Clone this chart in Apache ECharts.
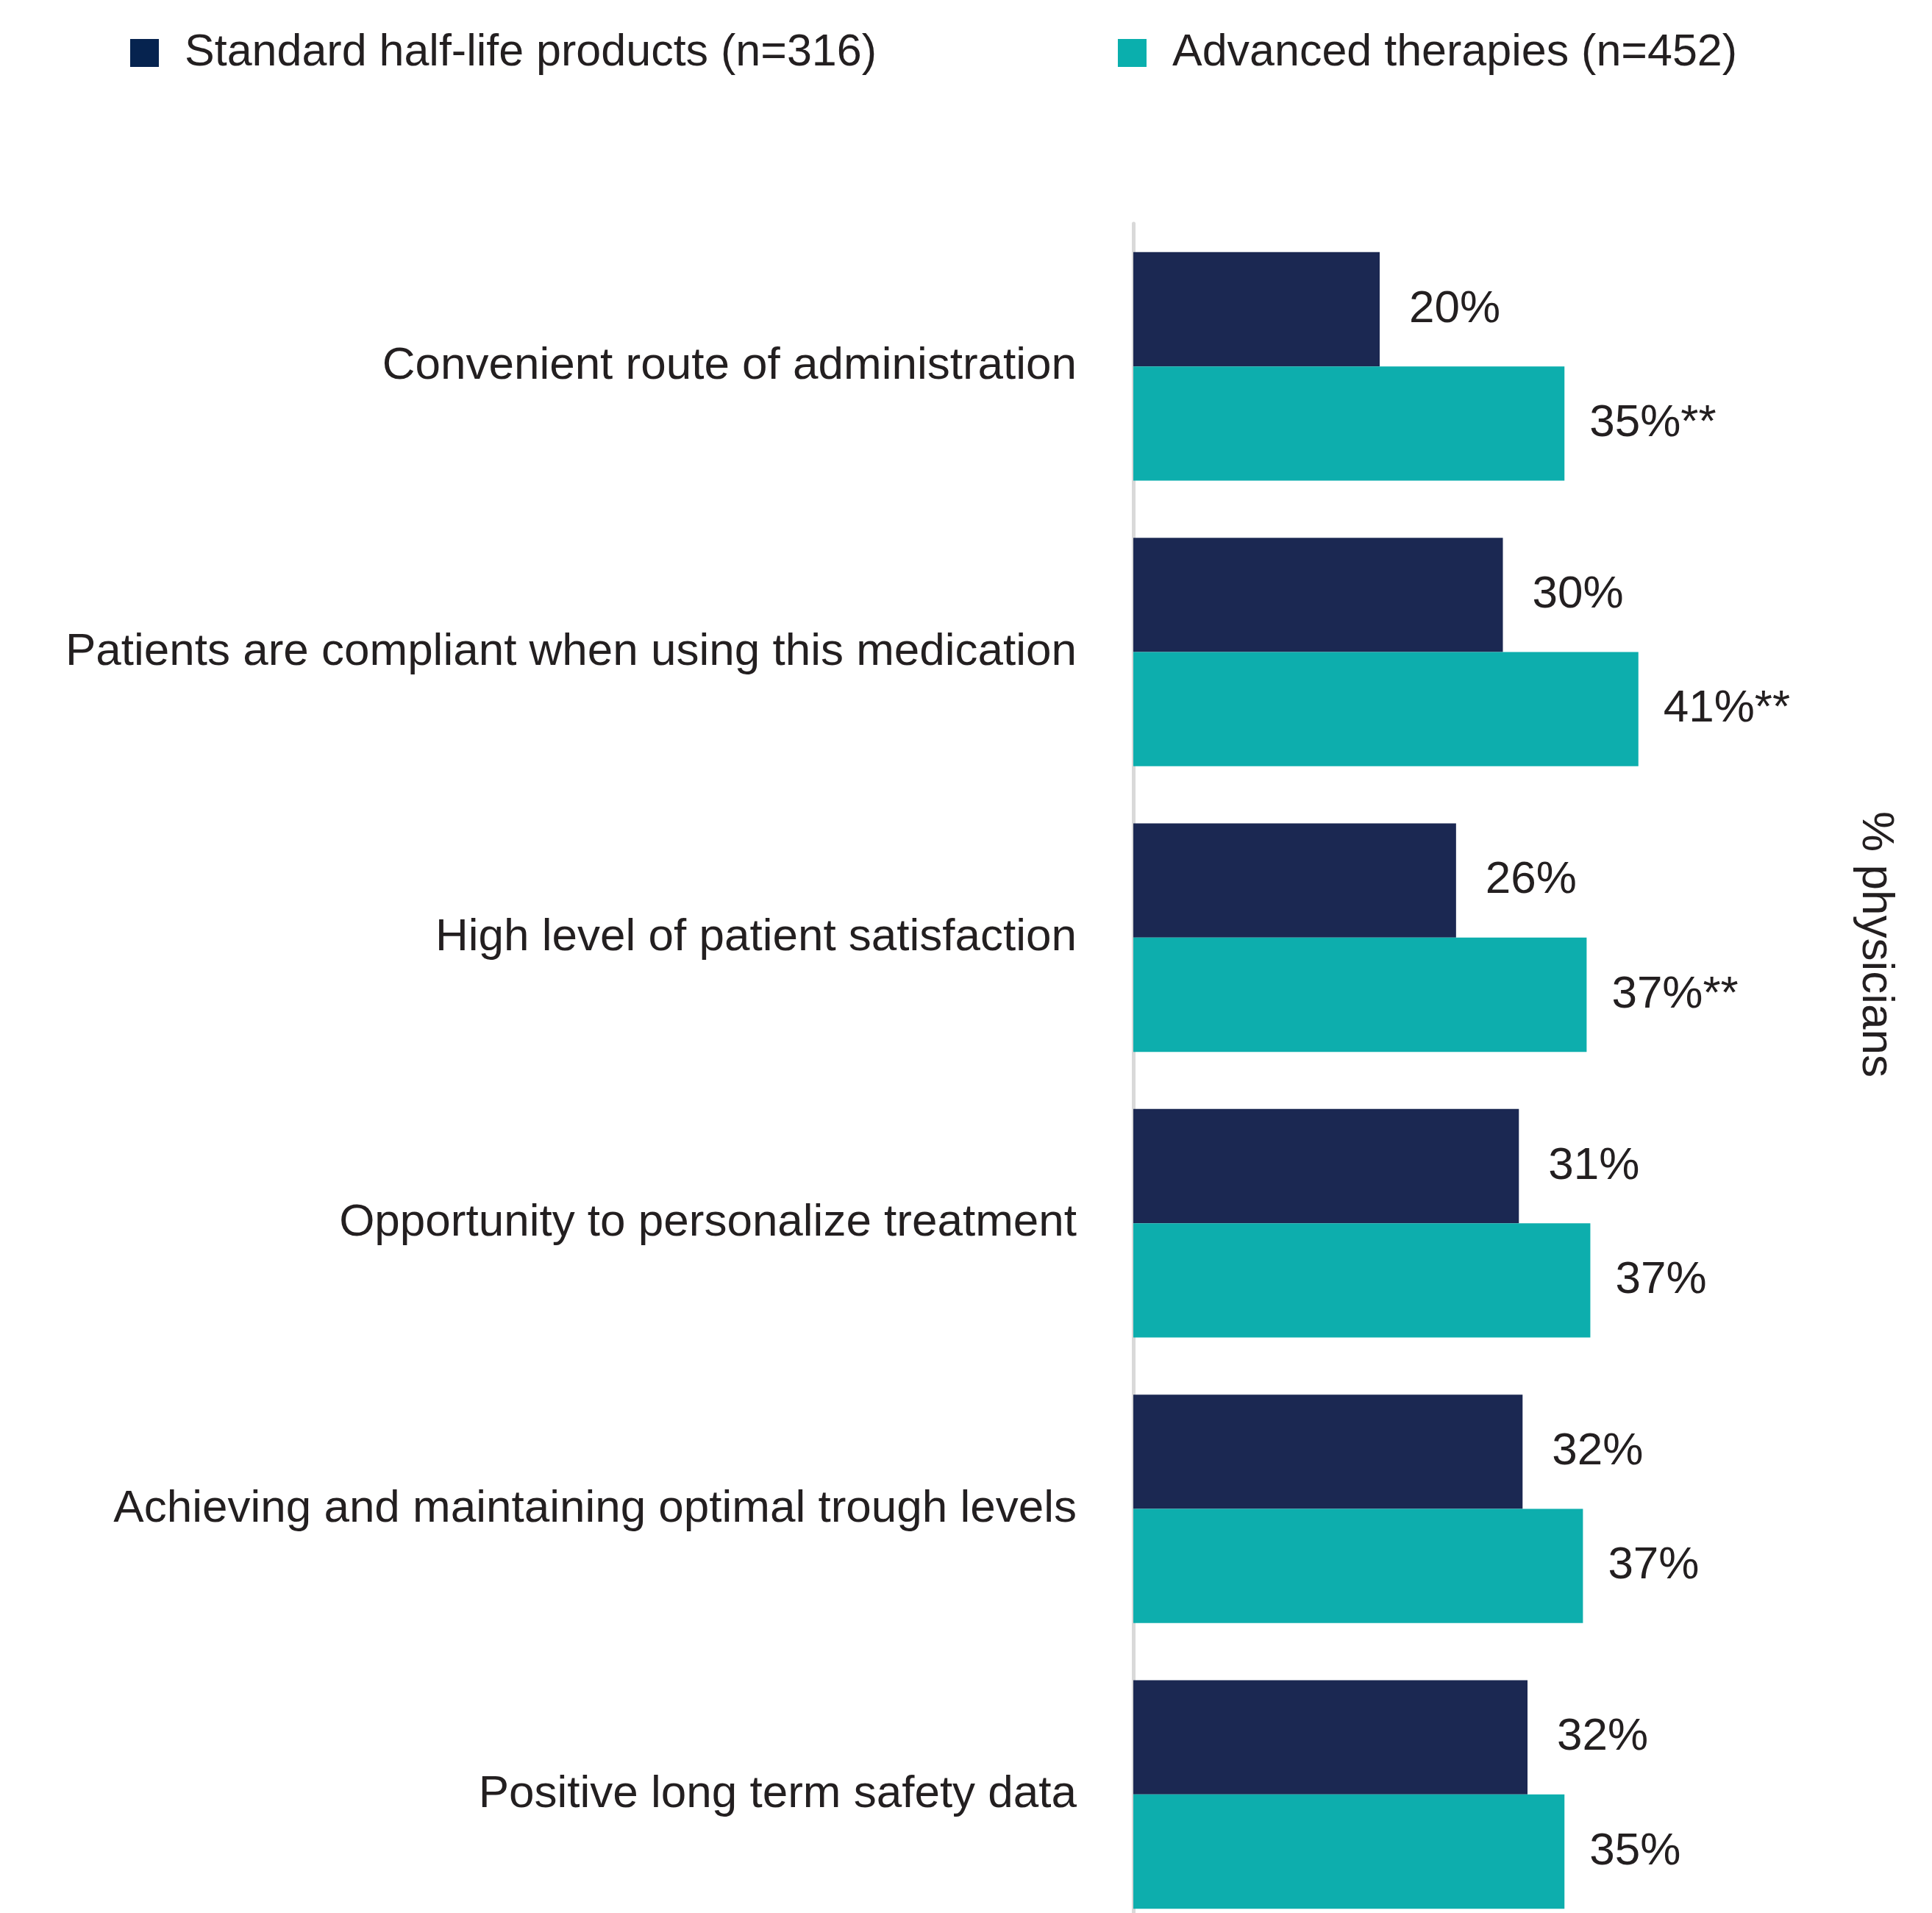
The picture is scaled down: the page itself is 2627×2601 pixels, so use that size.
<!DOCTYPE html>
<html>
<head>
<meta charset="utf-8">
<script src="https://cdn.jsdelivr.net/npm/echarts@6/dist/echarts.min.js"></script>
<style>
html,body{margin:0;padding:0;background:#fff;}
#chart{width:2627px;height:2601px;}
</style>
</head>
<body>
<div id="chart"></div>
<script>
const categories = [
  'Convenient route of administration',
  'Patients are compliant when using this medication',
  'High level of patient satisfaction',
  'Opportunity to personalize treatment',
  'Achieving and maintaining optimal trough levels',
  'Positive long term safety data'
];
const seriesNames = ['Standard half-life products (n=316)', 'Advanced therapies (n=452)'];
const standardValues = [20, 30, 26.2, 31.3, 31.6, 32];
const advancedValues = [35, 41, 36.8, 37.1, 36.5, 35];
const standardLabels = ['20%', '30%', '26%', '31%', '32%', '32%'];
const advancedLabels = ['35%**', '41%**', '37%**', '37%', '37%', '35%'];
const axisTitle = '% physicians';

const FONT = "'Liberation Sans', Arial, Helvetica, sans-serif";
const TXT = '#231f20';
const NAVY = '#1b2852';
const TEAL = '#0daead';

const chart = echarts.init(document.getElementById('chart'));
chart.setOption({
  backgroundColor: '#ffffff',
  animation: false,
  textStyle: { fontFamily: FONT },
  legend: {
    left: 172,
    top: 36,
    itemWidth: 39,
    itemHeight: 38,
    itemGap: 328,
    icon: 'rect',
    textStyle: { fontSize: 61, color: TXT, fontFamily: FONT, lineHeight: 62, padding: [0, 0, 0, 30] },
    data: [
      { name: seriesNames[0], itemStyle: { color: '#06234f' } },
      { name: seriesNames[1], itemStyle: { color: '#0aafad' } }
    ]
  },
  grid: { left: 1541, top: 304, width: 1005, height: 2330, containLabel: false, outerBoundsMode: 'none' },
  xAxis: {
    type: 'value', min: 0, max: 60, show: false
  },
  yAxis: {
    type: 'category',
    data: categories,
    inverse: true,
    axisLine: { show: true, lineStyle: { color: '#d9d9d9', width: 5 } },
    axisTick: { show: false },
    axisLabel: { fontSize: 62, color: TXT, fontFamily: FONT, margin: 77 },
    splitLine: { show: false }
  },
  graphic: [{
    type: 'text',
    x: 2550, y: 1284,
    rotation: -Math.PI / 2,
    style: {
      text: axisTitle, fontSize: 62, fill: TXT, fontFamily: FONT,
      textAlign: 'center', textVerticalAlign: 'middle'
    }
  }],
  series: [
    {
      name: seriesNames[0], type: 'bar', data: standardValues,
      barGap: '0%', barCategoryGap: '20%',
      itemStyle: { color: NAVY },
      label: {
        show: true, position: 'right', distance: 40,
        fontSize: 62, color: TXT, fontFamily: FONT,
        formatter: p => standardLabels[p.dataIndex]
      }
    },
    {
      name: seriesNames[1], type: 'bar', data: advancedValues,
      barGap: '0%', barCategoryGap: '20%',
      itemStyle: { color: TEAL },
      label: {
        show: true, position: 'right', distance: 34,
        fontSize: 62, color: TXT, fontFamily: FONT,
        formatter: p => advancedLabels[p.dataIndex]
      }
    }
  ]
});
</script>
</body>
</html>
